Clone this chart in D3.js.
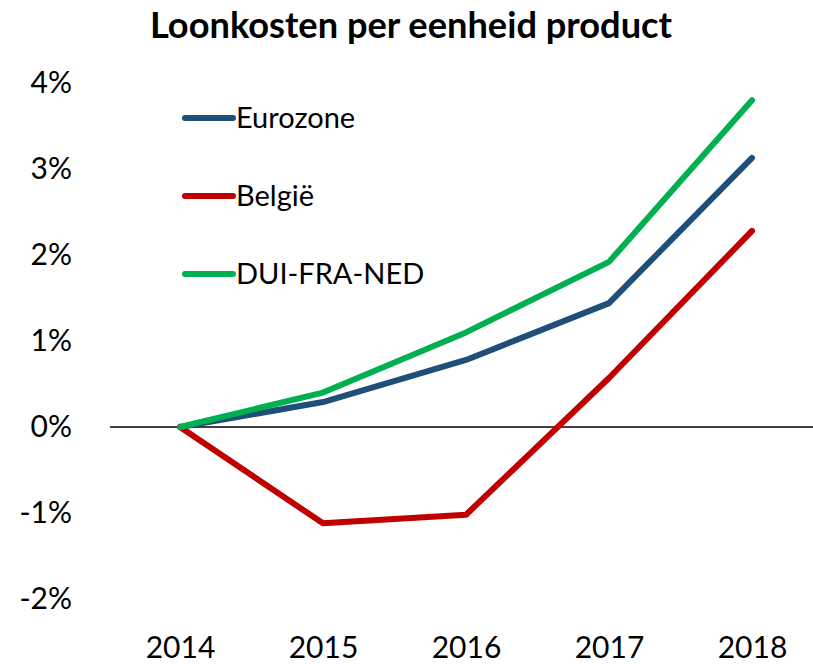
<!DOCTYPE html>
<html>
<head>
<meta charset="utf-8">
<script src="https://cdn.jsdelivr.net/npm/d3@7"></script>
<style>
  html, body { margin: 0; padding: 0; background: #fff; }
  svg { display: block; font-family: Lato, "Open Sans", sans-serif; }
</style>
</head>
<body>
<svg id="chart" width="813" height="664"></svg>
<script>
// ---- data ----
const years = ['2014', '2015', '2016', '2017', '2018'];
const eurozone = [0, 0.29, 0.78, 1.44, 3.13];
const belgie   = [0, -1.12, -1.02, 0.57, 2.28];
const duiFraNed = [0, 0.40, 1.10, 1.92, 3.80];
const yTicks = [-2, -1, 0, 1, 2, 3, 4];

const series = [
  { name: 'Eurozone',    values: eurozone,  color: '#1f4e79' },
  { name: 'België',      values: belgie,    color: '#c00000' },
  { name: 'DUI-FRA-NED', values: duiFraNed, color: '#00b050' }
];

const svg = d3.select('#chart');

// scales
const x = d3.scalePoint().domain(years).range([180, 752]);
const y = d3.scaleLinear().domain([-2, 4]).range([599, 83]);

// title
svg.append('text')
  .attr('x', 411).attr('y', 38)
  .attr('text-anchor', 'middle')
  .attr('font-size', 36).attr('font-weight', 700)
  .attr('textLength', 522).attr('lengthAdjust', 'spacingAndGlyphs')
  .text('Loonkosten per eenheid product');

// y axis labels (no line)
const yAxis = svg.append('g').attr('transform', 'translate(72,0)')
  .call(d3.axisLeft(y).tickValues(yTicks).tickFormat(d => d + '%').tickSize(0).tickPadding(0));
yAxis.select('.domain').remove();
yAxis.selectAll('text')
  .attr('font-family', 'Lato, "Open Sans", sans-serif')
  .attr('font-size', 30).attr('fill', '#000');

// x axis labels
const xAxis = svg.append('g').attr('transform', 'translate(0,637)')
  .call(d3.axisBottom(x).tickSize(0).tickPadding(0));
xAxis.select('.domain').remove();
xAxis.selectAll('text')
  .attr('font-family', 'Lato, "Open Sans", sans-serif')
  .attr('font-size', 30).attr('fill', '#000');

// zero line
svg.append('line')
  .attr('x1', 110).attr('x2', 813)
  .attr('y1', y(0)).attr('y2', y(0))
  .attr('stroke', '#000').attr('stroke-width', 1.5);

// series lines
const line = d3.line().x((d, i) => x(years[i])).y(d => y(d));
svg.selectAll('path.series').data(series).join('path')
  .attr('class', 'series')
  .attr('d', d => line(d.values))
  .attr('fill', 'none')
  .attr('stroke', d => d.color)
  .attr('stroke-width', 6)
  .attr('stroke-linecap', 'round')
  .attr('stroke-linejoin', 'round');

// legend
const leg = svg.selectAll('g.leg').data(series).join('g')
  .attr('class', 'leg')
  .attr('transform', (d, i) => `translate(185,${118 + i * 78})`);
leg.append('line')
  .attr('x1', 0).attr('x2', 48)
  .attr('stroke', d => d.color).attr('stroke-width', 6).attr('stroke-linecap', 'round');
leg.append('text')
  .attr('x', 51).attr('dy', '0.35em')
  .attr('font-size', 29)
  .text(d => d.name);
</script>
</body>
</html>
